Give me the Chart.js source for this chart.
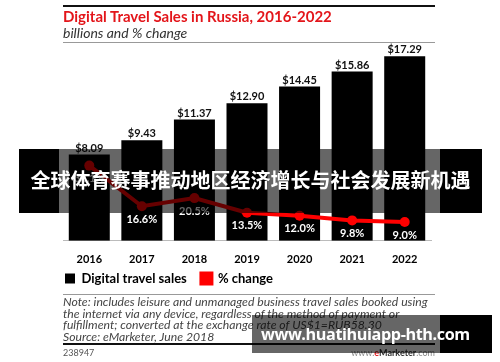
<!DOCTYPE html>
<html>
<head>
<meta charset="utf-8">
<script src="https://cdn.jsdelivr.net/npm/chart.js@4"></script>
<style>
body { margin: 0; background: #fff; }
#wrap { position: relative; width: 500px; height: 362px; overflow: hidden; font-family: Lato, sans-serif; }
#box { position: absolute; left: 0; top: 0; width: 500px; height: 362px; }
.abs { position: absolute; white-space: nowrap; }
.rule { position: absolute; left: 63px; width: 372px; }
#title { left: 63px; top: 7px; font-size: 15px; font-weight: bold; color: #e3151a; }
#sub { left: 63px; top: 24px; font-size: 14px; font-style: italic; color: #333; }
#note { left: 63px; top: 296px; font-size: 12.2px; line-height: 11.5px; font-style: italic; color: #444; }
#id { left: 63px; top: 347px; font-size: 9px; color: #555; }
#em { right: 65px; top: 347px; font-size: 9px; color: #888; }
#banner { left: 19px; top: 149px; width: 463px; height: 64px; }
#banner .l, #banner .r { position: absolute; top: 0; height: 64px; background: #000; }
#banner .m { position: absolute; top: 0; left: 40px; width: 381px; height: 64px; background: rgba(0,0,0,0.6); }
#banner .t { position: absolute; left: 0; width: 463px; top: 17px; text-align: center; font-family: "Noto Sans CJK SC"; font-weight: bold; font-size: 20px; line-height: 28px; color: #fff; }
#wm { left: 252px; top: 315px; width: 240px; height: 38px; }
#wm .m { position: absolute; left: 0; top: 0; width: 188px; height: 38px; background: rgba(0,0,0,0.6); }
#wm .r { position: absolute; left: 188px; top: 0; width: 52px; height: 38px; background: #000; }
#wm .t { position: absolute; left: 9px; top: 6px; font-family: "Open Sans"; font-weight: bold; font-size: 16.2px; letter-spacing: -0.4px; line-height: 26px; color: #fff; }
</style>
</head>
<body>
<div id="wrap">
  <div id="box"><canvas id="chart"></canvas></div>
  <div class="rule" style="top:5px;height:2px;background:#111"></div>
  <div class="abs" id="title">Digital Travel Sales in Russia, 2016-2022</div>
  <div class="abs" id="sub">billions and % change</div>
  <div class="rule" style="top:42px;height:1px;background:#999"></div>
  <div class="rule" style="top:294px;height:1px;background:#999"></div>
  <div class="abs" id="note">Note: includes leisure and unmanaged business travel sales booked using<br>the internet via any device, regardless of the method of payment or<br>fulfillment; converted at the exchange rate of US$1=RUB58.30<br>Source: eMarketer, June 2018</div>
  <div class="rule" style="top:343px;height:2px;background:#111"></div>
  <div class="abs" id="id">238947</div>
  <div class="abs" id="em">www.<span style="color:#e3151a;font-weight:bold">e</span><span style="color:#333;font-weight:bold">Marketer</span>.com</div>
  <div class="abs" id="banner">
    <div class="l" style="left:0;width:40px"></div>
    <div class="m"></div>
    <div class="r" style="left:421px;width:42px"></div>
    <div class="t">全球体育赛事推动地区经济增长与社会发展新机遇</div>
  </div>
  <div class="abs" id="wm">
    <div class="m"></div>
    <div class="r"></div>
    <div class="t">www.huatihuiapp-hth.com</div>
  </div>
</div>
<script>
// digital travel sales in russia, billions and % change
const years = ['2016', '2017', '2018', '2019', '2020', '2021', '2022']
const sales = [8.09, 9.43, 11.37, 12.90, 14.45, 15.86, 17.29]
const change = [36.1, 16.6, 20.5, 13.5, 12.0, 9.8, 9.0]

// labels above bars and under the line points
const valueLabels = {
    id: 'valueLabels',
    afterDatasetsDraw(chart) {
        let ctx = chart.ctx
        ctx.save()
        ctx.textAlign = 'center'
        ctx.font = 'bold 11px Lato'
        ctx.fillStyle = '#111'
        ctx.textBaseline = 'bottom'
        chart.getDatasetMeta(0).data.forEach((bar, i) => {
            ctx.fillText('$' + sales[i].toFixed(2), bar.x, bar.y - 1)
        })
        ctx.fillStyle = '#fff'
        ctx.textBaseline = 'middle'
        chart.getDatasetMeta(1).data.forEach((pt, i) => {
            ctx.fillText(change[i].toFixed(1) + '%', pt.x, Math.min(pt.y + 13, 241))
        })
        ctx.restore()
    }
}

new Chart(document.querySelector('#chart'), {
    type: 'bar',
    data: {
        labels: years,
        datasets: [{
            label: 'Digital travel sales',
            data: sales,
            backgroundColor: '#000',
            barPercentage: 0.78,
            categoryPercentage: 1,
            yAxisID: 'y',
            order: 1
        }, {
            type: 'line',
            label: '% change',
            data: change,
            borderColor: '#f00',
            backgroundColor: '#f00',
            borderWidth: 4,
            pointRadius: 5,
            pointBackgroundColor: '#f00',
            pointBorderWidth: 0,
            yAxisID: 'y1',
            order: 0
        }]
    },
    options: {
        responsive: true,
        maintainAspectRatio: false,
        animation: false,
        layout: {
            padding: { left: 63, right: 69, top: 45, bottom: 67 }
        },
        plugins: {
            tooltip: { enabled: false },
            legend: {
                position: 'bottom',
                align: 'start',
                labels: {
                    boxWidth: 10,
                    boxHeight: 10,
                    padding: 2,
                    color: '#000',
                    font: { family: 'Lato', weight: 'bold', size: 13 },
                    sort: (a, b) => a.datasetIndex - b.datasetIndex,
                    // wider gap after the bar item
                    generateLabels: (chart) => Chart.defaults.plugins.legend.labels.generateLabels(chart).map((item) => {
                        if (item.datasetIndex == 0) item.text = item.text + '\u00a0\u00a0\u00a0\u00a0'
                        return item
                    })
                }
            }
        },
        scales: {
            x: {
                grid: { display: false },
                border: { color: '#bbb' },
                ticks: { color: '#000', padding: 4, font: { family: 'Lato', weight: 'bold', size: 11 } }
            },
            y: { display: false, min: 0, max: 18.35 },
            y1: { display: false, min: 0, max: 94 }
        }
    },
    plugins: [valueLabels]
})
</script>
</body>
</html>
